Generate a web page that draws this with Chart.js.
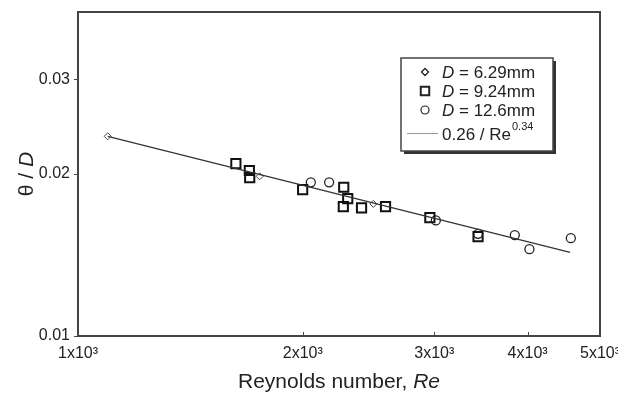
<!DOCTYPE html>
<html>
<head>
<meta charset="utf-8">
<script src="https://cdn.jsdelivr.net/npm/chart.js@4.4.0/dist/chart.umd.min.js"></script>
<style>
    html, body { margin: 0; padding: 0; background: #fff; }
    #wrap { width: 618px; height: 395px; }
</style>
</head>
<body>
<div id="wrap"><canvas id="chart" width="618" height="395"></canvas></div>
<script>
// values
const re629 = [1096, 1751, 2486];
const theta629 = [0.0235, 0.0198, 0.0176];

const re924 = [1627, 1696, 1698, 1999, 2269, 2297, 2266, 2397, 2581, 2959, 3433];
const theta924 = [0.0209, 0.0203, 0.0197, 0.0187, 0.0189, 0.0180, 0.0174, 0.0173, 0.0174, 0.0166, 0.0153];

const re126 = [2050, 2169, 3014, 3433, 3845, 4022, 4570];
const theta126 = [0.0193, 0.0193, 0.0164, 0.01548, 0.0154, 0.0145, 0.0152];

// fitted power law, end points as drawn
const fitRe = [1096, 4560];
const fitTheta = [0.0235, 0.0143];

const xTicks = [1000, 2000, 3000, 4000, 5000];
const xTickLabels = ['1x10³', '2x10³', '3x10³', '4x10³', '5x10³'];
const yTicks = [0.01, 0.02, 0.03];
const yTickLabels = ['0.01', '0.02', '0.03'];

const FONT = '"Liberation Sans", Arial, sans-serif';

function toPoints(xs, ys) {
    return xs.map((x, i) => ({ x, y: ys[i] }));
}

// frame, inner ticks, axis titles and the boxed legend
const decorations = {
    id: 'decorations',
    beforeDatasetsDraw(chart) {
        const { ctx, chartArea: a, scales } = chart;
        ctx.save();
        ctx.strokeStyle = '#444';
        ctx.lineWidth = 2;
        ctx.strokeRect(a.left, a.top, a.right - a.left, a.bottom - a.top);

        ctx.lineWidth = 1;
        ctx.beginPath();
        for (const v of xTicks) {
            const px = Math.round(scales.x.getPixelForValue(v)) + 0.5;
            ctx.moveTo(px, a.bottom);
            ctx.lineTo(px, a.bottom - 4);
        }
        for (const v of yTicks) {
            const py = Math.round(scales.y.getPixelForValue(v)) + 0.5;
            ctx.moveTo(a.left, py);
            ctx.lineTo(a.left - 4, py);
        }
        ctx.stroke();
        ctx.restore();
    },
    afterDraw(chart) {
        const { ctx, chartArea: a } = chart;
        ctx.save();
        ctx.fillStyle = '#222';
        ctx.textBaseline = 'alphabetic';

        // x title: "Reynolds number, Re"
        const xPlain = 'Reynolds number, ';
        ctx.font = '21px ' + FONT;
        const w1 = ctx.measureText(xPlain).width;
        ctx.font = 'italic 21px ' + FONT;
        const w2 = ctx.measureText('Re').width;
        let sx = (a.left + a.right) / 2 - (w1 + w2) / 2;
        ctx.font = '21px ' + FONT;
        ctx.fillText(xPlain, sx, 388);
        ctx.font = 'italic 21px ' + FONT;
        ctx.fillText('Re', sx + w1, 388);

        // y title: "θ / D"
        ctx.translate(33, 174);
        ctx.rotate(-Math.PI / 2);
        ctx.font = '21px ' + FONT;
        const t1 = ctx.measureText('θ / ').width;
        ctx.font = 'italic 21px ' + FONT;
        const t2 = ctx.measureText('D').width;
        sx = -(t1 + t2) / 2;
        ctx.font = '21px ' + FONT;
        ctx.fillText('θ / ', sx, 0);
        ctx.font = 'italic 21px ' + FONT;
        ctx.fillText('D', sx + t1, 0);
        ctx.restore();

        // legend box with drop shadow
        const bx = 401, by = 58, bw = 152, bh = 93;
        ctx.save();
        ctx.fillStyle = '#333';
        ctx.fillRect(bx + 3, by + 3, bw, bh);
        ctx.fillStyle = '#fff';
        ctx.fillRect(bx, by, bw, bh);
        ctx.strokeStyle = '#444';
        ctx.lineWidth = 1.5;
        ctx.strokeRect(bx, by, bw, bh);

        const rows = [
            { style: 'rectRot', r: 3.5, w: 1.3, label: ' = 6.29mm' },
            { style: 'rect', r: 6, w: 2, label: ' = 9.24mm' },
            { style: 'circle', r: 4, w: 1.2, label: ' = 12.6mm' }
        ];
        rows.forEach((row, i) => {
            const cy = 72 + i * 19;
            ctx.strokeStyle = '#222';
            ctx.fillStyle = '#fff';
            ctx.lineWidth = row.w;
            Chart.helpers.drawPoint(ctx, { pointStyle: row.style, radius: row.r, borderWidth: row.w }, 425, cy);
            ctx.fillStyle = '#222';
            ctx.font = 'italic 17px ' + FONT;
            ctx.fillText('D', 442, cy + 6);
            const dw = ctx.measureText('D').width;
            ctx.font = '17px ' + FONT;
            ctx.fillText(row.label, 442 + dw, cy + 6);
        });

        ctx.strokeStyle = '#999';
        ctx.lineWidth = 1;
        ctx.beginPath();
        ctx.moveTo(407, 133.5);
        ctx.lineTo(438, 133.5);
        ctx.stroke();
        ctx.fillStyle = '#222';
        ctx.font = '17px ' + FONT;
        ctx.fillText('0.26 / Re', 442, 140);
        const fw = ctx.measureText('0.26 / Re').width;
        ctx.font = '11px ' + FONT;
        ctx.fillText('0.34', 442 + fw + 1, 130);
        ctx.restore();
    }
};

new Chart(document.getElementById('chart'), {
    type: 'scatter',
    data: {
        datasets: [
            {
                label: 'fit',
                data: toPoints(fitRe, fitTheta),
                showLine: true,
                borderColor: '#333',
                borderWidth: 1.2,
                pointRadius: 0
            },
            {
                label: 'D = 6.29mm',
                data: toPoints(re629, theta629),
                pointStyle: 'rectRot',
                pointRadius: 3.5,
                pointBorderWidth: 1,
                borderColor: '#444',
                backgroundColor: '#fff'
            },
            {
                label: 'D = 9.24mm',
                data: toPoints(re924, theta924),
                pointStyle: 'rect',
                pointRadius: 6.5,
                pointBorderWidth: 2,
                borderColor: '#111',
                backgroundColor: 'rgba(255,255,255,0)'
            },
            {
                label: 'D = 12.6mm',
                data: toPoints(re126, theta126),
                pointStyle: 'circle',
                pointRadius: 4.5,
                pointBorderWidth: 1.3,
                borderColor: '#222',
                backgroundColor: 'rgba(255,255,255,0)'
            }
        ]
    },
    options: {
        responsive: false,
        animation: false,
        layout: { padding: { left: 0, right: 18, top: 12, bottom: 0 } },
        plugins: {
            legend: { display: false },
            tooltip: { enabled: false }
        },
        scales: {
            x: {
                type: 'logarithmic',
                min: 1000,
                max: 5000,
                grid: { display: false },
                border: { display: false },
                afterBuildTicks: s => { s.ticks = xTicks.map(v => ({ value: v })); },
                afterFit: s => {
                    s.height = 59;
                    s.paddingLeft = 0;
                    s.paddingRight = 0;
                },
                ticks: {
                    autoSkip: false,
                    maxRotation: 0,
                    padding: 0,
                    color: '#222',
                    font: { family: FONT, size: 16 },
                    callback: (v, i) => xTickLabels[i]
                }
            },
            y: {
                type: 'logarithmic',
                min: 0.01,
                max: 0.04,
                grid: { display: false },
                border: { display: false },
                afterBuildTicks: s => { s.ticks = yTicks.map(v => ({ value: v })); },
                afterFit: s => {
                    s.width = 78;
                    s.paddingTop = 0;
                    s.paddingBottom = 0;
                },
                ticks: {
                    autoSkip: false,
                    padding: 0,
                    color: '#222',
                    font: { family: FONT, size: 16 },
                    callback: (v, i) => yTickLabels[i]
                }
            }
        }
    },
    plugins: [decorations]
});
</script>
</body>
</html>
